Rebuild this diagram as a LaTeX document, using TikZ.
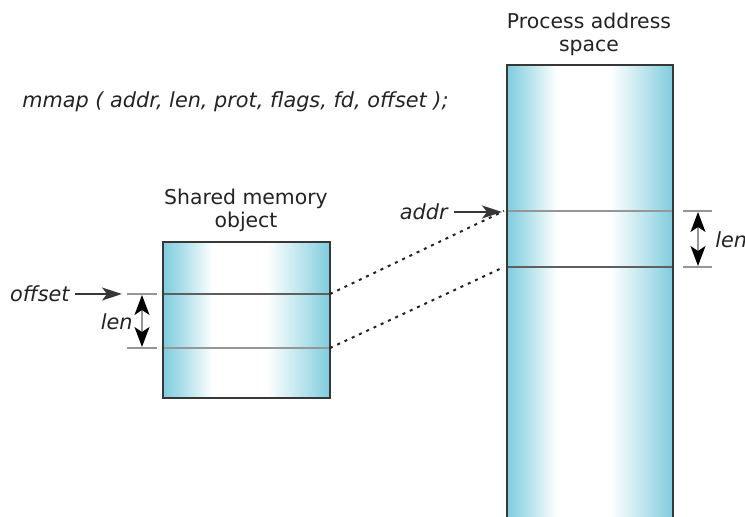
\documentclass[tikz,border=0pt]{standalone}
\usepackage{fontspec}
\setmainfont{DejaVu Sans}
\usetikzlibrary{arrows.meta}

\definecolor{memblue}{RGB}{126,204,222}
\definecolor{edgegray}{RGB}{55,55,55}
\definecolor{markgray}{RGB}{150,150,150}
\definecolor{inkgray}{RGB}{35,35,35}

% cyan at both sides, wide white band a bit left of centre
\pgfdeclarehorizontalshading{memshade}{100bp}{color(0bp)=(memblue); color(25bp)=(memblue);
  color(31bp)=(memblue!62); color(40bp)=(white); color(56bp)=(white);
  color(66bp)=(memblue!50); color(75bp)=(memblue); color(100bp)=(memblue)}

\tikzset{
  membox/.style={shading=memshade},
  memedge/.style={draw=edgegray, line width=1pt},
  darkmark/.style={draw=edgegray!80, line width=0.8pt},
  lightmark/.style={draw=markgray, line width=1.1pt},
  label/.style={text=inkgray, inner sep=0pt, font=\fontsize{10.4}{11.6}\selectfont\itshape},
  title/.style={text=inkgray, align=center, font=\fontsize{10.2}{11.6}\selectfont},
  ptrarrow/.style={draw=edgegray, line width=0.7pt, -{Stealth[length=10pt,width=6.5pt,inset=2.5pt]}},
  dimarrow/.style={draw=markgray, line width=0.7pt, {Stealth[length=10pt,width=7.5pt,inset=2.5pt,color=black]}-{Stealth[length=10pt,width=7.5pt,inset=2.5pt,color=black]}},
  tick/.style={draw=markgray, line width=0.9pt},
  mapline/.style={draw=inkgray, line width=1pt, dash pattern=on 1.5pt off 2.5pt}
}

\begin{document}
\begin{tikzpicture}[x=0.5pt,y=-0.5pt]
  \useasboundingbox (0,0) rectangle (745,517);

  \node[label, anchor=west] (call) at (22,102) {mmap ( addr, len, prot, flags, fd, offset );};

  % shared memory object
  \node[title] (shmtitle) at (246,210) {Shared memory\\object};
  \shade[membox] (163,242) rectangle (330,398);
  \draw[darkmark] (163,294) -- (330,294);
  \draw[lightmark] (163,348) -- (330,348);
  \path[memedge] (163,242) rectangle (330,398);
  \coordinate (shmtop) at (330,294);
  \coordinate (shmbot) at (330,348);

  % process address space, runs off the bottom
  \node[title] (proctitle) at (589,34) {Process address\\space};
  \shade[membox] (507,65) rectangle (673,530);
  \draw[lightmark] (507,211) -- (673,211);
  \draw[darkmark] (507,267) -- (673,267);
  \path[memedge] (507,530) |- (673,65) -- (673,530);
  \coordinate (proctop) at (504,211);
  \coordinate (procbot) at (504,267);

  % mapping
  \draw[mapline] (shmtop) -- (proctop);
  \draw[mapline] (shmbot) -- (procbot);

  % offset and len on the object
  \node[label, anchor=east] (offset) at (70,294) {offset};
  \coordinate (offtip) at (122,294);
  \draw[ptrarrow] (offset.east) ++(5,0) -- (offtip);
  \draw[tick] (127,294) -- (157,294);
  \draw[tick] (127,348) -- (157,348);
  \coordinate (lenatop) at (142,295);
  \coordinate (lenabot) at (142,347);
  \draw[dimarrow] (lenatop) -- (lenabot);
  \node[label, anchor=east] (lena) at (133,322) {len};

  % addr and len in the address space
  \node[label, anchor=east] (addr) at (448,212) {addr};
  \coordinate (addrtip) at (502,212);
  \draw[ptrarrow] (addr.east) ++(6,0) -- (addrtip);
  \draw[tick] (683,211) -- (712,211);
  \draw[tick] (683,267) -- (712,267);
  \coordinate (lenbtop) at (698,212);
  \coordinate (lenbbot) at (698,266);
  \draw[dimarrow] (lenbtop) -- (lenbbot);
  \node[label, anchor=west] (lenb) at (715,240) {len};
\end{tikzpicture}
\end{document}
